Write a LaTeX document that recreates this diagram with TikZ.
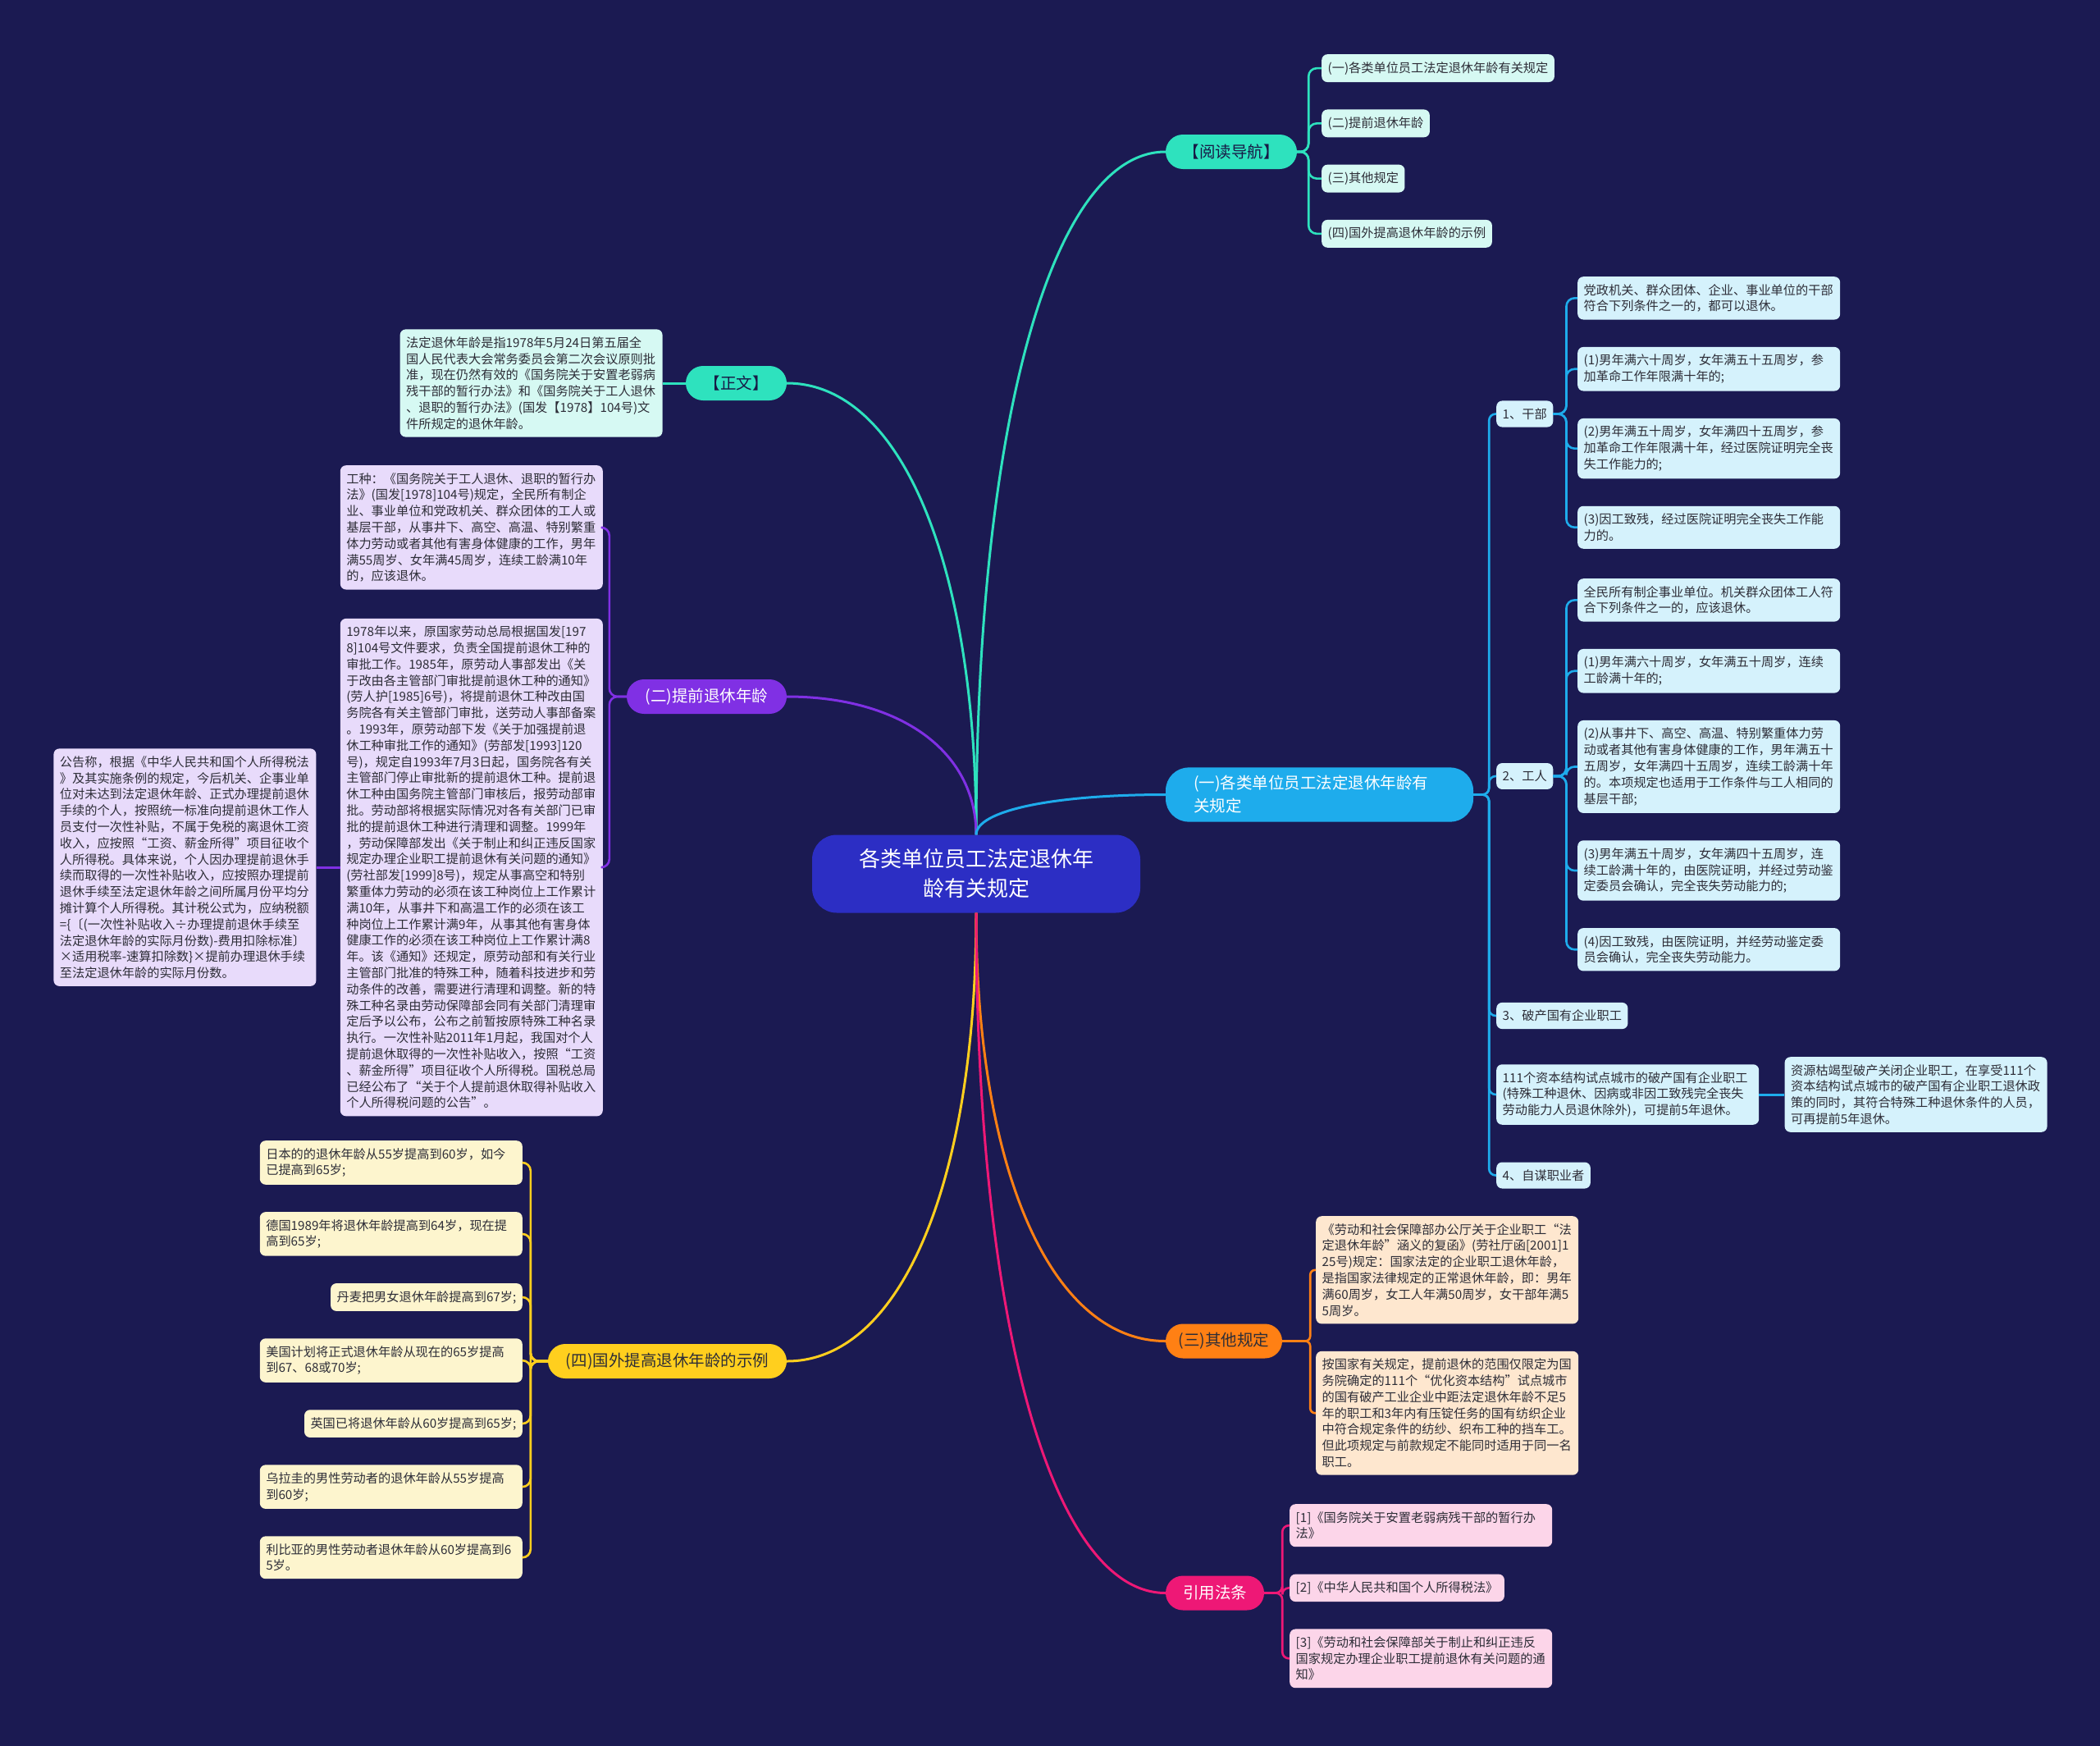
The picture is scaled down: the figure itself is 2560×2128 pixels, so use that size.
\documentclass[tikz,border=0pt]{standalone}
\usepackage{fontspec}
\setmainfont{Noto Sans CJK SC}
\usetikzlibrary{positioning}
\definecolor{bgnavy}{RGB}{27,26,82}
\definecolor{rootblue}{RGB}{44,46,196}
\definecolor{navtext}{RGB}{24,26,70}
\definecolor{tealc}{RGB}{46,226,190}
\definecolor{mint}{RGB}{214,249,243}
\definecolor{tqviolet}{RGB}{128,48,228}
\definecolor{lavender}{RGB}{232,219,251}
\definecolor{skyc}{RGB}{30,172,236}
\definecolor{icecyan}{RGB}{213,242,252}
\definecolor{orangec}{RGB}{255,128,20}
\definecolor{peach}{RGB}{254,231,207}
\definecolor{goldc}{RGB}{255,207,30}
\definecolor{cream}{RGB}{253,245,206}
\definecolor{rosec}{RGB}{238,24,118}
\definecolor{pinkc}{RGB}{252,213,233}
\definecolor{inkc}{RGB}{45,45,55}

\begin{document}
\begin{tikzpicture}[x=1pt, y=-1pt, node distance=33pt and 28pt,
  every node/.style={font=\fontsize{15.2}{19.8}\selectfont, text=inkc},
  leaf/.style={rounded corners=7pt, inner xsep=7.5pt, inner ysep=9pt, align=left},
  wide/.style={leaf, text width=305pt},
  branch/.style={rounded corners=21pt, minimum height=42pt, inner xsep=10pt, font=\fontsize{19.5}{26}\selectfont},
  twig/.style={line width=2.6pt, rounded corners=10pt},
  limb/.style={line width=3pt}]
\fill[bgnavy] (0,0) rectangle (2560,2128);

% centre
\node[fill=rootblue, rounded corners=30pt, minimum width=400pt, minimum height=95pt, align=center, text=white, font=\fontsize{26}{36}\selectfont] (root) at (1190,1065) {各类单位员工法定退休年\\龄有关规定};

% reading guide
\node[branch, fill=tealc, minimum width=160pt, text=navtext] (nav) at (1501,185) {【阅读导航】};
\node[leaf, fill=mint, anchor=north west] (nav1) at (1611,66) {(一)各类单位员工法定退休年龄有关规定};
\node[leaf, fill=mint, below=of nav1.south west, anchor=north west] (nav2) {(二)提前退休年龄};
\node[leaf, fill=mint, below=of nav2.south west, anchor=north west] (nav3) {(三)其他规定};
\node[leaf, fill=mint, below=of nav3.south west, anchor=north west] (nav4) {(四)国外提高退休年龄的示例};
\foreach \c in {nav1,nav2,nav3,nav4}
  \draw[twig, tealc] (nav.east) -- ++(14,0) |- (\c.west);

% main text
\node[branch, fill=tealc, minimum width=123pt, text=navtext] (zw) at (897.5,467) {【正文】};
\node[wide, fill=mint, left=28pt of zw] (zw1) {法定退休年龄是指1978年5月24日第五届全\\国人民代表大会常务委员会第二次会议原则批\\准，现在仍然有效的《国务院关于安置老弱病\\残干部的暂行办法》和《国务院关于工人退休\\、退职的暂行办法》(国发【1978】104号)文\\件所规定的退休年龄。};
\draw[limb, tealc] (zw.west) -- (zw1.east);

% early retirement
\node[branch, fill=tqviolet, minimum width=195pt, text=white] (tq) at (861.5,849) {(二)提前退休年龄};
\node[wide, fill=lavender, anchor=north east] (tq1) at (735,567) {工种：《国务院关于工人退休、退职的暂行办\\法》(国发[1978]104号)规定，全民所有制企\\业、事业单位和党政机关、群众团体的工人或\\基层干部，从事井下、高空、高温、特别繁重\\体力劳动或者其他有害身体健康的工作，男年\\满55周岁、女年满45周岁，连续工龄满10年\\的，应该退休。};
\node[wide, fill=lavender, below=35pt of tq1.south east, anchor=north east] (tq2) {1978年以来，原国家劳动总局根据国发[197\\8]104号文件要求，负责全国提前退休工种的\\审批工作。1985年，原劳动人事部发出《关\\于改由各主管部门审批提前退休工种的通知》\\(劳人护[1985]6号)，将提前退休工种改由国\\务院各有关主管部门审批，送劳动人事部备案\\。1993年，原劳动部下发《关于加强提前退\\休工种审批工作的通知》(劳部发[1993]120\\号)，规定自1993年7月3日起，国务院各有关\\主管部门停止审批新的提前退休工种。提前退\\休工种由国务院主管部门审核后，报劳动部审\\批。劳动部将根据实际情况对各有关部门已审\\批的提前退休工种进行清理和调整。1999年\\，劳动保障部发出《关于制止和纠正违反国家\\规定办理企业职工提前退休有关问题的通知》\\(劳社部发[1999]8号)，规定从事高空和特别\\繁重体力劳动的必须在该工种岗位上工作累计\\满10年，从事井下和高温工作的必须在该工\\种岗位上工作累计满9年，从事其他有害身体\\健康工作的必须在该工种岗位上工作累计满8\\年。该《通知》还规定，原劳动部和有关行业\\主管部门批准的特殊工种，随着科技进步和劳\\动条件的改善，需要进行清理和调整。新的特\\殊工种名录由劳动保障部会同有关部门清理审\\定后予以公布，公布之前暂按原特殊工种名录\\执行。一次性补贴2011年1月起，我国对个人\\提前退休取得的一次性补贴收入，按照“工资\\、薪金所得”项目征收个人所得税。国税总局\\已经公布了“关于个人提前退休取得补贴收入\\个人所得税问题的公告”。};
\node[wide, fill=lavender, left=29pt of tq2] (tq3) {公告称，根据《中华人民共和国个人所得税法\\》及其实施条例的规定，今后机关、企事业单\\位对未达到法定退休年龄、正式办理提前退休\\手续的个人，按照统一标准向提前退休工作人\\员支付一次性补贴，不属于免税的离退休工资\\收入，应按照“工资、薪金所得”项目征收个\\人所得税。具体来说，个人因办理提前退休手\\续而取得的一次性补贴收入，应按照办理提前\\退休手续至法定退休年龄之间所属月份平均分\\摊计算个人所得税。其计税公式为，应纳税额\\=\{〔(一次性补贴收入÷办理提前退休手续至\\法定退休年龄的实际月份数)-费用扣除标准〕\\×适用税率-速算扣除数\}×提前办理退休手续\\至法定退休年龄的实际月份数。};
\foreach \c in {tq1,tq2}
  \draw[twig, tqviolet] (tq.west) -- ++(-21,0) |- (\c.east);
\draw[limb, tqviolet] (tq2.west) -- (tq3.east);

% statutory age by group
\node[branch, fill=skyc, text=white, align=left, text width=307pt, inner xsep=34pt, inner ysep=10pt, rounded corners=28pt, font=\fontsize{19.5}{28}\selectfont] (gl) at (1608.5,968.5) {(一)各类单位员工法定退休年龄有\\关规定};
\node[leaf, fill=icecyan, anchor=west] (gb) at (1824,504.5) {1、干部};
\node[leaf, fill=icecyan, anchor=west] (gr) at (1824,946) {2、工人};
\node[leaf, fill=icecyan, anchor=west] (pc) at (1824,1238) {3、破产国有企业职工};
\node[wide, fill=icecyan, anchor=west] (sy) at (1824,1334) {111个资本结构试点城市的破产国有企业职工\\(特殊工种退休、因病或非因工致残完全丧失\\劳动能力人员退休除外)，可提前5年退休。};
\node[wide, fill=icecyan, right=31pt of sy] (zy) {资源枯竭型破产关闭企业职工，在享受111个\\资本结构试点城市的破产国有企业职工退休政\\策的同时，其符合特殊工种退休条件的人员，\\可再提前5年退休。};
\node[leaf, fill=icecyan, anchor=west] (zm) at (1824,1432.5) {4、自谋职业者};
\foreach \c in {gb,gr,pc,sy,zm}
  \draw[twig, skyc, rounded corners=8pt] (gl.east) -- ++(19,0) |- (\c.west);
\draw[limb, skyc] (sy.east) -- (zy.west);

\node[wide, fill=icecyan, anchor=north west] (gb1) at (1923,337) {党政机关、群众团体、企业、事业单位的干部\\符合下列条件之一的，都可以退休。};
\node[wide, fill=icecyan, below=of gb1.south west, anchor=north west] (gb2) {(1)男年满六十周岁，女年满五十五周岁，参\\加革命工作年限满十年的;};
\node[wide, fill=icecyan, below=of gb2.south west, anchor=north west] (gb3) {(2)男年满五十周岁，女年满四十五周岁，参\\加革命工作年限满十年，经过医院证明完全丧\\失工作能力的;};
\node[wide, fill=icecyan, below=of gb3.south west, anchor=north west] (gb4) {(3)因工致残，经过医院证明完全丧失工作能\\力的。};
\foreach \c in {gb1,gb2,gb3,gb4}
  \draw[twig, skyc] (gb.east) -- ++(16,0) |- (\c.west);

\node[wide, fill=icecyan, anchor=north west] (gr1) at (1923,705) {全民所有制企事业单位。机关群众团体工人符\\合下列条件之一的，应该退休。};
\node[wide, fill=icecyan, below=of gr1.south west, anchor=north west] (gr2) {(1)男年满六十周岁，女年满五十周岁，连续\\工龄满十年的;};
\node[wide, fill=icecyan, below=of gr2.south west, anchor=north west] (gr3) {(2)从事井下、高空、高温、特别繁重体力劳\\动或者其他有害身体健康的工作，男年满五十\\五周岁，女年满四十五周岁，连续工龄满十年\\的。本项规定也适用于工作条件与工人相同的\\基层干部;};
\node[wide, fill=icecyan, below=of gr3.south west, anchor=north west] (gr4) {(3)男年满五十周岁，女年满四十五周岁，连\\续工龄满十年的，由医院证明，并经过劳动鉴\\定委员会确认，完全丧失劳动能力的;};
\node[wide, fill=icecyan, below=of gr4.south west, anchor=north west] (gr5) {(4)因工致残，由医院证明，并经劳动鉴定委\\员会确认，完全丧失劳动能力。};
\foreach \c in {gr1,gr2,gr3,gr4,gr5}
  \draw[twig, skyc] (gr.east) -- ++(16,0) |- (\c.west);

% other rules
\node[branch, fill=orangec, minimum width=142pt] (qt) at (1492,1634.5) {(三)其他规定};
\node[wide, fill=peach, anchor=north west] (qt1) at (1604,1482) {《劳动和社会保障部办公厅关于企业职工“法\\定退休年龄”涵义的复函》(劳社厅函[2001]1\\25号)规定：国家法定的企业职工退休年龄，\\是指国家法律规定的正常退休年龄，即：男年\\满60周岁，女工人年满50周岁，女干部年满5\\5周岁。};
\node[wide, fill=peach, below=of qt1.south west, anchor=north west] (qt2) {按国家有关规定，提前退休的范围仅限定为国\\务院确定的111个“优化资本结构”试点城市\\的国有破产工业企业中距法定退休年龄不足5\\年的职工和3年内有压锭任务的国有纺织企业\\中符合规定条件的纺纱、织布工种的挡车工。\\但此项规定与前款规定不能同时适用于同一名\\职工。};
\foreach \c in {qt1,qt2}
  \draw[twig, orangec, rounded corners=6pt] (qt.east) -- ++(34,0) |- (\c.west);

% abroad
\node[branch, fill=goldc, minimum width=291pt] (gw) at (813.5,1659) {(四)国外提高退休年龄的示例};
\node[wide, fill=cream, anchor=north east] (gw1) at (637,1390) {日本的的退休年龄从55岁提高到60岁，如今\\已提高到65岁;};
\node[wide, fill=cream, below=of gw1.south east, anchor=north east] (gw2) {德国1989年将退休年龄提高到64岁，现在提\\高到65岁;};
\node[leaf, fill=cream, below=of gw2.south east, anchor=north east] (gw3) {丹麦把男女退休年龄提高到67岁;};
\node[wide, fill=cream, below=of gw3.south east, anchor=north east] (gw4) {美国计划将正式退休年龄从现在的65岁提高\\到67、68或70岁;};
\node[leaf, fill=cream, below=of gw4.south east, anchor=north east] (gw5) {英国已将退休年龄从60岁提高到65岁;};
\node[wide, fill=cream, below=of gw5.south east, anchor=north east] (gw6) {乌拉圭的男性劳动者的退休年龄从55岁提高\\到60岁;};
\node[wide, fill=cream, below=of gw6.south east, anchor=north east] (gw7) {利比亚的男性劳动者退休年龄从60岁提高到6\\5岁。};
\foreach \c in {gw1,gw2,gw3,gw4,gw5,gw6,gw7}
  \draw[twig, goldc] (gw.west) -- ++(-21,0) |- (\c.east);

% cited laws
\node[branch, fill=rosec, minimum width=120pt, text=white] (yy) at (1481,1941.5) {引用法条};
\node[wide, fill=pinkc, anchor=north west] (yy1) at (1572,1833) {[1]《国务院关于安置老弱病残干部的暂行办\\法》};
\node[leaf, fill=pinkc, below=of yy1.south west, anchor=north west] (yy2) {[2]《中华人民共和国个人所得税法》};
\node[wide, fill=pinkc, below=of yy2.south west, anchor=north west] (yy3) {[3]《劳动和社会保障部关于制止和纠正违反\\国家规定办理企业职工提前退休有关问题的通\\知》};
\foreach \c in {yy1,yy2,yy3}
  \draw[twig, rosec, rounded corners=8pt] (yy.east) -- ++(22,0) |- (\c.west);

% limbs from the centre
\draw[limb, tealc] (root.north) .. controls +(0,-499) and +(-139,0) .. (nav.west);
\draw[limb, tealc] (root.north) .. controls +(0,-330) and +(139,0) .. (zw.east);
\draw[limb, tqviolet] (root.north) .. controls +(0,-101) and +(139,0) .. (tq.east);
\draw[limb, skyc] (root.north) .. controls +(0,-29) and +(-139,0) .. (gl.west);
\draw[limb, goldc] (root.south) .. controls +(0,328) and +(139,0) .. (gw.east);
\draw[limb, orangec] (root.south) .. controls +(0,314) and +(-139,0) .. (qt.west);
\draw[limb, rosec] (root.south) .. controls +(0,497) and +(-139,0) .. (yy.west);
\end{tikzpicture}
\end{document}
